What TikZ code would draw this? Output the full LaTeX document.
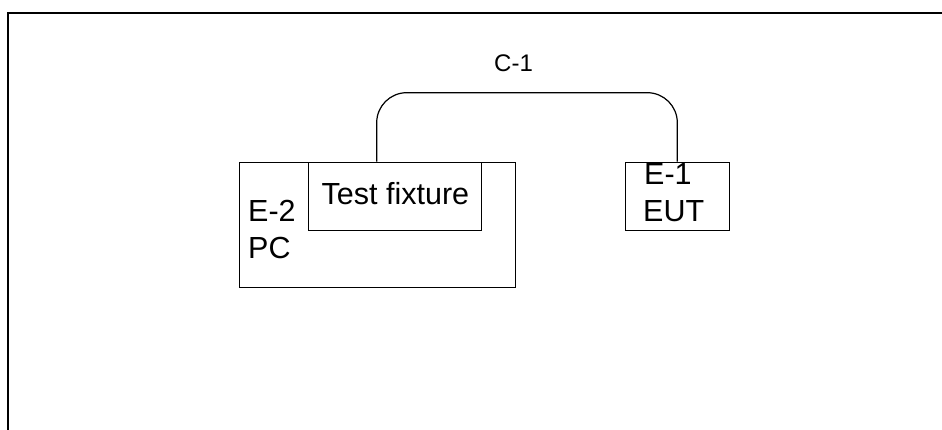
\documentclass[tikz,border=0pt]{standalone}
\usepackage{fontspec}
\setmainfont{Liberation Sans}
\begin{document}
\begin{tikzpicture}[x=1pt,y=-1pt,
  box/.style={draw,line width=1.2pt,rectangle,inner sep=0pt,anchor=north west},
  lbl/.style={anchor=base west,inner sep=0pt,font=\fontsize{30.5}{36}\selectfont},
  smalllbl/.style={anchor=base west,inner sep=0pt,font=\fontsize{24}{28}\selectfont},
  cable/.style={line width=1.2pt,rounded corners=30pt},
  frame/.style={line width=2pt}]
\useasboundingbox (0,0) rectangle (942,430);
% outer frame (open at right and bottom)
\coordinate (fbl) at (7.7,432);
\coordinate (ftl) at (7.7,13);
\coordinate (ftr) at (944,13);
\draw[frame] (fbl) -- (ftl) -- (ftr);
% boxes
\node[box,minimum width=276pt,minimum height=125.3pt] (pc) at (239,161.7) {};
\node[box,minimum width=173.3pt,minimum height=68.3pt] (fix) at (307.7,161.7) {};
\node[box,minimum width=104pt,minimum height=68.3pt] (eut) at (625,161.7) {};
% texts
\node[lbl] (tfix) at (321.5,205) {Test fixture};
\node[lbl] (te2) at (248,221.7) {E-2};
\node[lbl] (tpc) at (248,259) {PC};
\node[lbl] (te1) at (644,185) {E-1};
\node[lbl] (teut) at (643,221.7) {EUT};
\node[smalllbl] (tc1) at (494,71.7) {C-1};
% cable
\coordinate (cstart) at ([xshift=69pt]fix.north west);
\coordinate (ctop) at (0,92.7);
\coordinate (cend) at ([xshift=52.3pt]eut.north west);
\draw[cable] (cstart) -- (cstart |- ctop) -- (cend |- ctop) -- (cend);
\end{tikzpicture}
\end{document}
